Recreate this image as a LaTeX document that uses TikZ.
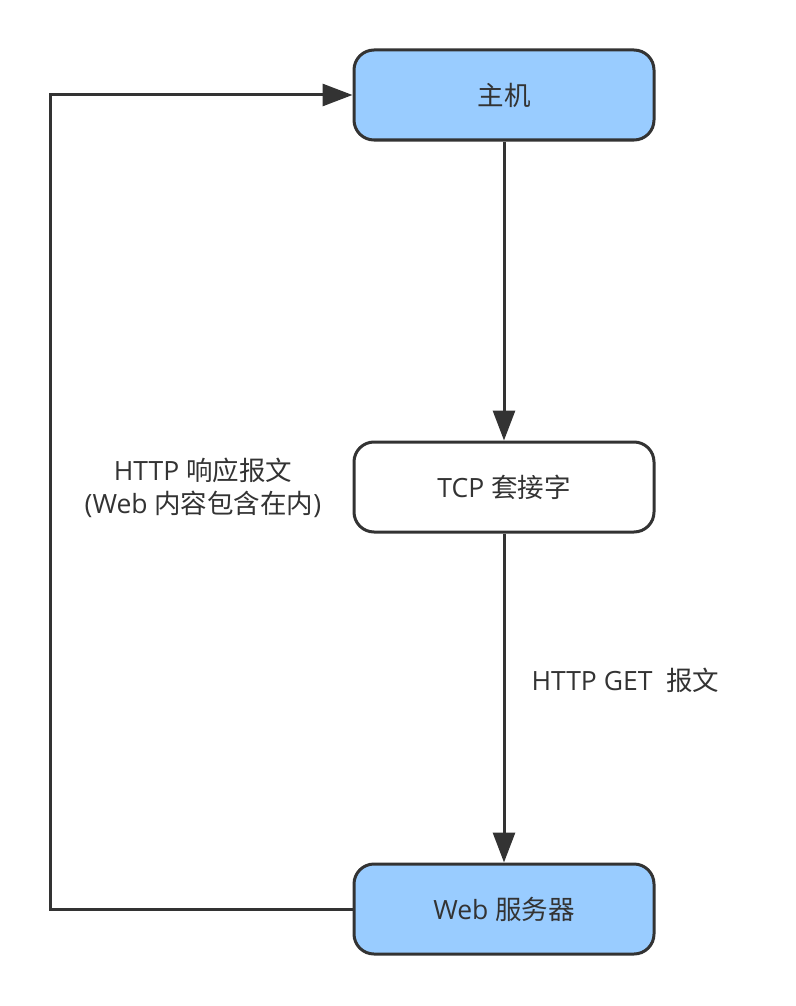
\documentclass[tikz,border=0pt]{standalone}
\usepackage{fontspec}
\setmainfont{Open Sans}
\newfontfamily\cjk{Noto Sans CJK SC}
\usetikzlibrary{arrows.meta}
\definecolor{strk}{HTML}{333333}
\definecolor{blu}{HTML}{99CCFF}
\tikzset{
  box/.style={draw=strk, line width=3pt, rounded corners=20pt, minimum width=300pt, minimum height=90pt, inner sep=0pt, text=strk, font=\fontsize{26.5}{32}\selectfont},
  conn/.style={draw=strk, line width=3pt, -{Triangle[length=30pt,width=22pt]}},
  lbl/.style={text=strk, font=\fontsize{26.5}{33}\selectfont, align=center}
}
\begin{document}
\begin{tikzpicture}[x=1pt,y=-1pt]
\useasboundingbox (0,0) rectangle (795,1006);
\node[box, fill=blu] (host) at (504,95) {{\cjk 主机}};
\node[box, fill=white] (tcp) at (504,487) {TCP {\cjk 套接字}};
\node[box, fill=blu] (web) at (504,909) {Web {\cjk 服务器}};
\coordinate (bl) at (50,909);
\coordinate (tl) at (50,95);
\draw[conn] (host) -- (tcp);
\draw[conn] (tcp) -- (web);
\draw[conn] (web.west) -- (bl) -- (tl) -- (host.west);
\node[lbl] (resp) at (203,488) {HTTP {\cjk 响应报文}\\(Web {\cjk 内容包含在内})};
\node[lbl, anchor=west] (get) at (528,680) {HTTP GET \ {\cjk 报文}};
\end{tikzpicture}
\end{document}
